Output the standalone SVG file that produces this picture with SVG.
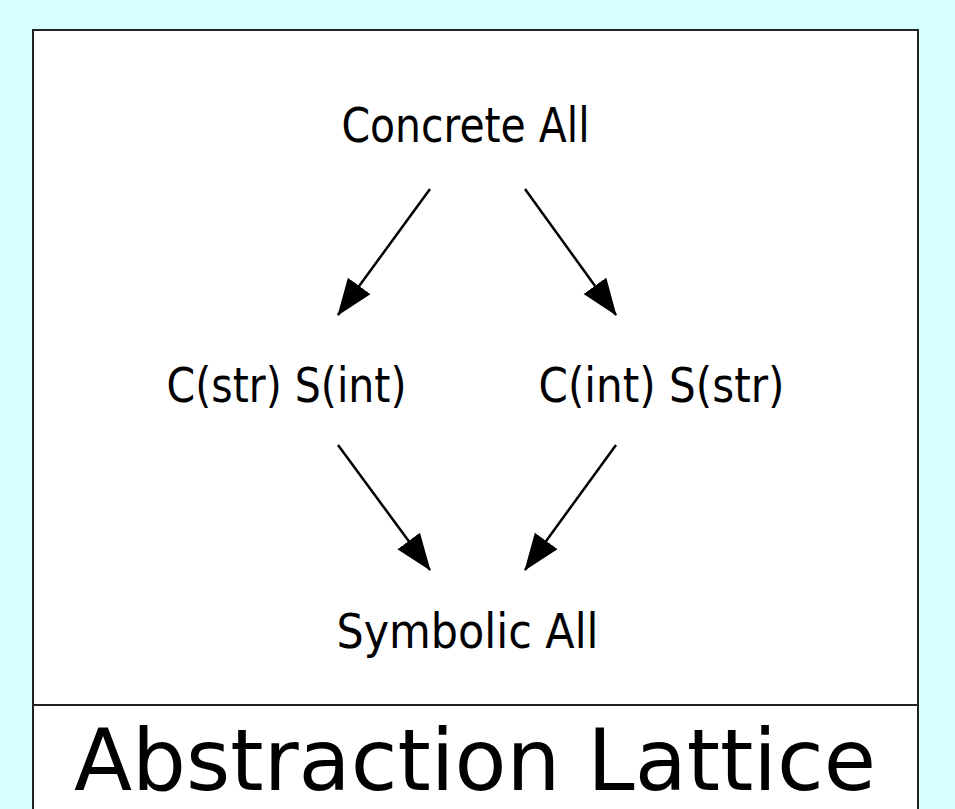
<svg xmlns="http://www.w3.org/2000/svg" width="955" height="809" viewBox="0 0 955 809">
<defs>
<style>
.lbl{font-family:"DejaVu Sans","Liberation Sans",sans-serif;font-size:48px;fill:#000;text-anchor:middle}
.edge{stroke:#000;stroke-width:2.5;fill:none}
</style>
<marker id="ah" markerUnits="userSpaceOnUse" markerWidth="40" markerHeight="30" refX="36" refY="14" orient="auto" viewBox="0 0 40 30">
<path d="M0,0 L37,14 L0,28 Z" fill="#000"/>
</marker>
</defs>
<rect x="0" y="0" width="955" height="809" fill="#d6ffff"/>
<g id="frame">
<rect x="33" y="30" width="885" height="800" fill="#fff" stroke="#222" stroke-width="2"/>
<line x1="33" y1="705" x2="918" y2="705" stroke="#222" stroke-width="2"/>
<text x="475" y="790" class="lbl" style="font-size:85px">Abstraction Lattice</text>
</g>
<g id="connectors">
<line class="edge" x1="430" y1="189" x2="338" y2="315" marker-end="url(#ah)"/>
<line class="edge" x1="525" y1="189" x2="616" y2="315" marker-end="url(#ah)"/>
<line class="edge" x1="338" y1="445" x2="430" y2="570" marker-end="url(#ah)"/>
<line class="edge" x1="616" y1="445" x2="525" y2="570" marker-end="url(#ah)"/>
</g>
<g id="concrete-all"><text x="465.5" y="141.5" class="lbl" textLength="248" lengthAdjust="spacingAndGlyphs">Concrete All</text></g>
<g id="cstr-sint"><text x="286.5" y="401.5" class="lbl" textLength="240" lengthAdjust="spacingAndGlyphs">C(str) S(int)</text></g>
<g id="cint-sstr"><text x="661.5" y="401.5" class="lbl" textLength="246" lengthAdjust="spacingAndGlyphs">C(int) S(str)</text></g>
<g id="symbolic-all"><text x="467.5" y="648" class="lbl" textLength="262" lengthAdjust="spacingAndGlyphs">Symbolic All</text></g>
</svg>
